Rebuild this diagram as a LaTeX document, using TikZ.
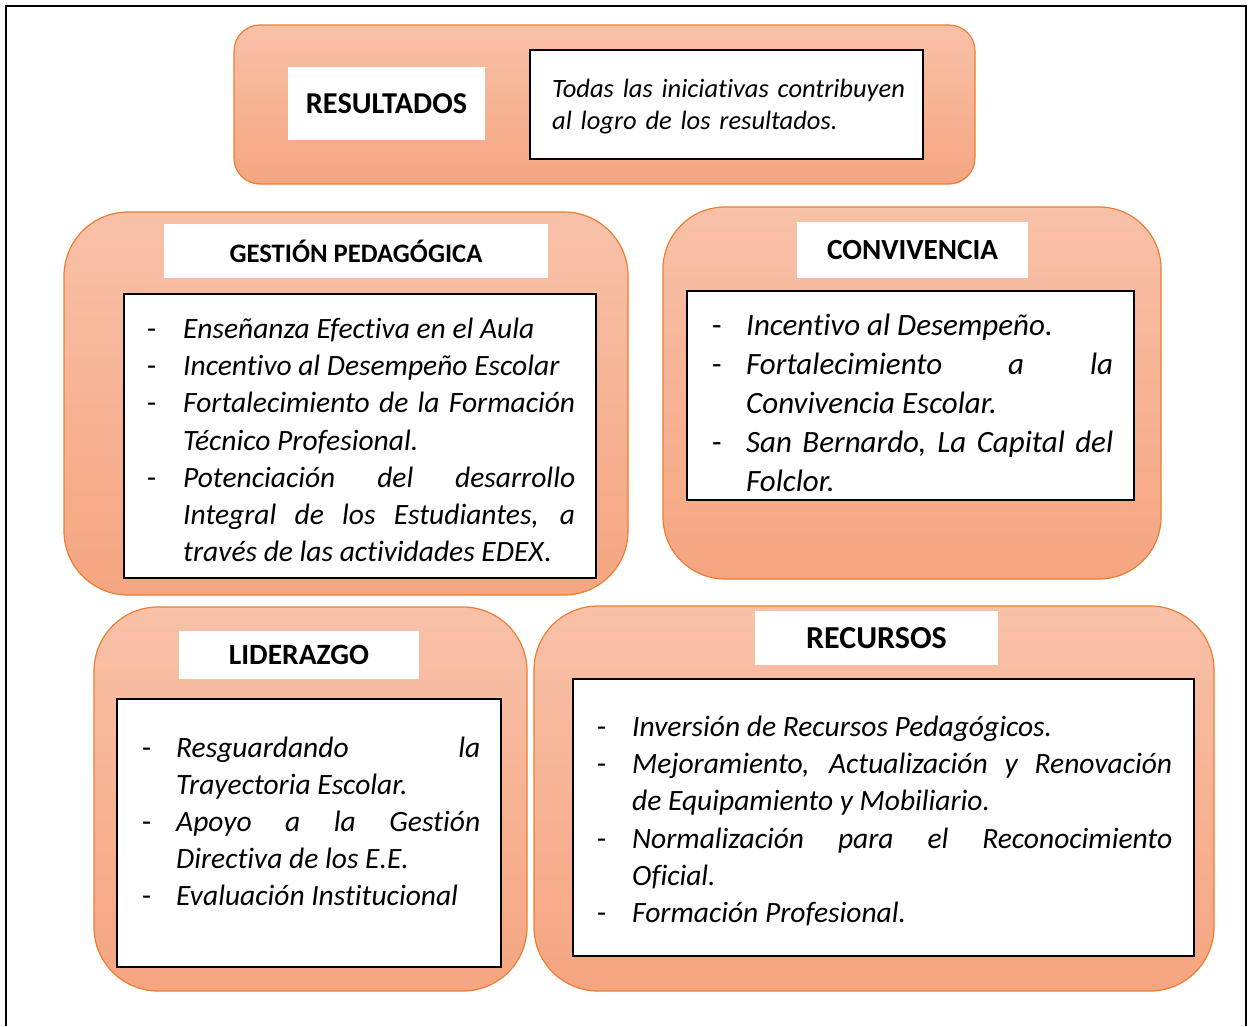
\documentclass[tikz,border=0pt]{standalone}
\usepackage{fontspec}
\setmainfont{Carlito}[Ligatures=CommonOff]
\usepackage{tikz}

\definecolor{panelTop}{RGB}{248,193,168}
\definecolor{panelBot}{RGB}{245,165,128}
\definecolor{panelLine}{RGB}{237,125,49}

\newlength{\sangria}
\setlength{\sangria}{36pt}
\newcommand{\punto}[1]{\par\noindent\hangindent=\sangria\hangafter=1\makebox[\sangria][l]{\upshape -}\strut #1\par}
\hyphenpenalty=10000
\exhyphenpenalty=10000

\begin{document}
\begin{tikzpicture}[x=1pt,y=-1pt,
  panel/.style={draw=panelLine, line width=1.2pt, top color=panelTop, bottom color=panelBot},
  titulo/.style={fill=white, inner sep=0pt, font=\bfseries\fontsize{#1}{#1}\selectfont},
  caja/.style={draw=black, line width=2.6pt, fill=white},
  lista/.style 2 args={anchor=north west, inner sep=0pt, align=justify, font=\itshape\fontsize{#1}{#2}\selectfont}]
\useasboundingbox (0,0) rectangle (1249,1026);
\draw[line width=2.5pt] (6,1026) -- (6,6) -- (1246,6) -- (1246,1026);

% resultados
\node[panel, rounded corners=26pt, minimum width=741pt, minimum height=159pt] (resultados) at (604.5,104.5) {};
\node[titulo=30.3, minimum width=197pt, minimum height=73pt] (resultadosT) at (386.5,103.5) {RESULTADOS};
\node[caja, minimum width=393pt, minimum height=109pt] (resultadosC) at (726.5,104.5) {};
\node[lista={26.5}{32}, align=left, text width=370pt] (resultadosX) at (552,75)
  {\strut Todas las iniciativas contribuyen\\al logro de los resultados.};

% gestion pedagogica
\node[panel, rounded corners=64pt, minimum width=564pt, minimum height=383pt] (gestion) at (346,403.5) {};
\node[titulo=26.7, minimum width=384pt, minimum height=54pt] (gestionT) at (356,251) {GESTIÓN PEDAGÓGICA};
\node[caja, minimum width=472pt, minimum height=284pt] (gestionC) at (360,436) {};
\node[lista={29.5}{37.2}, text width=428pt] (gestionX) at (147,301) {\setlength{\sangria}{36pt}%
  \punto{Enseñanza Efectiva en el Aula}
  \punto{Incentivo al Desempeño Escolar}
  \punto{Fortalecimiento de la Formación\linebreak Técnico Profesional.}
  \punto{Potenciación del desarrollo\linebreak Integral de los Estudiantes, a\linebreak través de las actividades EDEX\upshape.}};

% convivencia
\node[panel, rounded corners=62pt, minimum width=498pt, minimum height=372pt] (convivencia) at (912,393) {};
\node[titulo=29.2, minimum width=231pt, minimum height=56pt] (convivenciaT) at (912.5,250) {CONVIVENCIA};
\node[caja, minimum width=447pt, minimum height=209pt] (convivenciaC) at (910.5,395.5) {};
\node[lista={31}{39}, text width=401pt] (convivenciaX) at (712,296) {\setlength{\sangria}{34pt}%
  \punto{Incentivo al Desempeño.}
  \punto{Fortalecimiento a la\linebreak Convivencia Escolar.}
  \punto{San Bernardo, La Capital del\linebreak Folclor.}};

% liderazgo
\node[panel, rounded corners=64pt, minimum width=433pt, minimum height=384pt] (liderazgo) at (310.5,799) {};
\node[titulo=29.5, minimum width=240pt, minimum height=48pt] (liderazgoT) at (299,655) {\raisebox{-4pt}{LIDERAZGO}};
\node[caja, minimum width=384pt, minimum height=268pt] (liderazgoC) at (309,833) {};
\node[lista={29.5}{37}, text width=338pt] (liderazgoX) at (142,720.5) {\setlength{\sangria}{34pt}%
  \punto{Resguardando la\linebreak Trayectoria Escolar.}
  \punto{Apoyo a la Gestión\linebreak Directiva de los E.E.}
  \punto{Evaluación Institucional}};

% recursos
\node[panel, rounded corners=64pt, minimum width=680pt, minimum height=385pt] (recursos) at (874,798.5) {};
\node[titulo=32, minimum width=243pt, minimum height=54pt] (recursosT) at (876.5,638) {\raisebox{-4pt}{RECURSOS}};
\node[caja, minimum width=621pt, minimum height=277pt] (recursosC) at (883.5,817.5) {};
\node[lista={29.5}{37.2}, text width=575pt] (recursosX) at (597,699) {\setlength{\sangria}{35pt}%
  \punto{Inversión de Recursos Pedagógicos.}
  \punto{Mejoramiento, Actualización y Renovación\linebreak de Equipamiento y Mobiliario.}
  \punto{Normalización para el Reconocimiento\linebreak Oficial.}
  \punto{Formación Profesional.}};
\end{tikzpicture}
\end{document}
